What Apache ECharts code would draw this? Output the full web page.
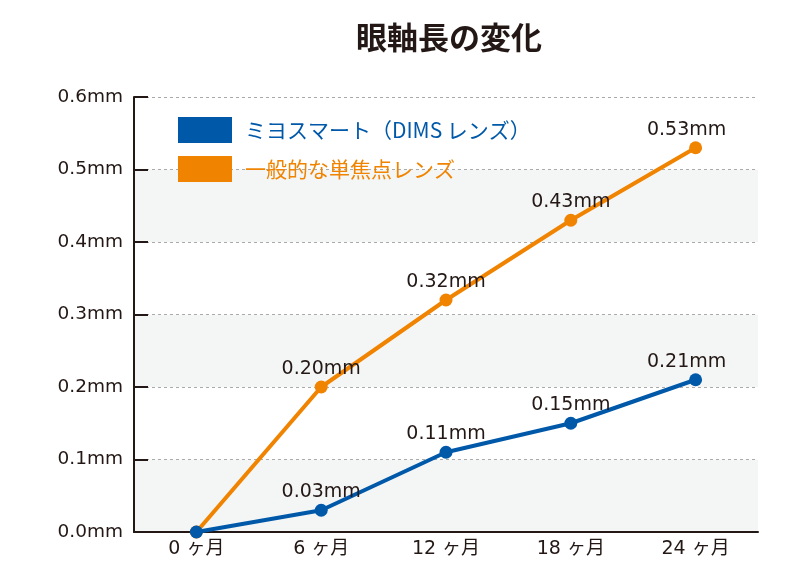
<!DOCTYPE html>
<html><head><meta charset="utf-8">
<script src="https://cdn.jsdelivr.net/npm/echarts@6/dist/echarts.min.js"></script>
<style>html,body{margin:0;padding:0;background:#fff}#c{width:800px;height:572px}</style>
</head><body><div id="c"></div>
<script>
const title = '眼軸長の変化';
const categories = ['0 ヶ月', '6 ヶ月', '12 ヶ月', '18 ヶ月', '24 ヶ月'];
const seriesNames = ['ミヨスマート（DIMS レンズ）', '一般的な単焦点レンズ'];
const blueValues = [0, 0.03, 0.11, 0.15, 0.21];
const orangeValues = [0, 0.20, 0.32, 0.43, 0.53];
const yTicks = [0, 0.1, 0.2, 0.3, 0.4, 0.5, 0.6];

const FONT = '"DejaVu Sans", "Noto Sans CJK JP", sans-serif';
const CJK = '"Noto Sans CJK JP", sans-serif';
const TXT = '#231815';
function mk(vals) {
  return vals.map((v, i) => {
    if (i === 0) return {value: v, label: {show: false}};
    if (i === vals.length - 1) return {value: v, label: {offset: [-9, 0]}};
    return v;
  });
}
const chart = echarts.init(document.getElementById('c'));
chart.setOption({
  animation: false,
  title: {text: title, left: 444, textAlign: 'center', top: 17,
    textStyle: {fontSize: 31, fontWeight: 'bold', color: TXT, fontFamily: CJK}},
  legend: {orient: 'vertical', left: 173, top: 112, itemWidth: 54, itemHeight: 26, itemGap: 13,
    icon: 'rect', data: seriesNames,
    textStyle: {fontSize: 21, fontFamily: CJK, color: 'inherit', padding: [0, 0, 0, 8]}},
  grid: {left: 134, right: 42, top: 97, bottom: 40, containLabel: false},
  xAxis: {type: 'category', data: categories, boundaryGap: true,
    axisLine: {lineStyle: {color: TXT, width: 2}},
    axisTick: {alignWithLabel: true, inside: true, length: 12, lineStyle: {color: TXT, width: 2}},
    axisLabel: {color: TXT, fontSize: 19, margin: 8, fontFamily: FONT},
    splitLine: {show: false}},
  yAxis: {type: 'value', min: yTicks[0], max: yTicks[yTicks.length - 1], interval: 0.1,
    axisLine: {show: true, lineStyle: {color: TXT, width: 2}},
    axisTick: {show: true, inside: true, length: 14, lineStyle: {color: TXT, width: 2}},
    axisLabel: {color: TXT, fontSize: 18.5, margin: 11, fontFamily: FONT,
      formatter: v => v.toFixed(1) + 'mm'},
    splitLine: {show: true, lineStyle: {color: '#aaaaaa', type: [3, 3], width: 1}},
    splitArea: {show: true, areaStyle: {color: ['#f4f6f5', '#ffffff']}}},
  series: [
    {name: seriesNames[1], type: 'line', data: mk(orangeValues), color: '#f08300',
      lineStyle: {width: 4}, symbol: 'circle', symbolSize: 13, z: 3,
      label: {show: true, position: 'top', distance: 2, color: TXT, fontSize: 19, fontFamily: FONT,
        formatter: p => p.value.toFixed(2) + 'mm'}},
    {name: seriesNames[0], type: 'line', data: mk(blueValues), color: '#0058a9',
      lineStyle: {width: 4}, symbol: 'circle', symbolSize: 13, z: 4,
      label: {show: true, position: 'top', distance: 2, color: TXT, fontSize: 19, fontFamily: FONT,
        formatter: p => p.value.toFixed(2) + 'mm'}}
  ]
});
</script></body></html>
